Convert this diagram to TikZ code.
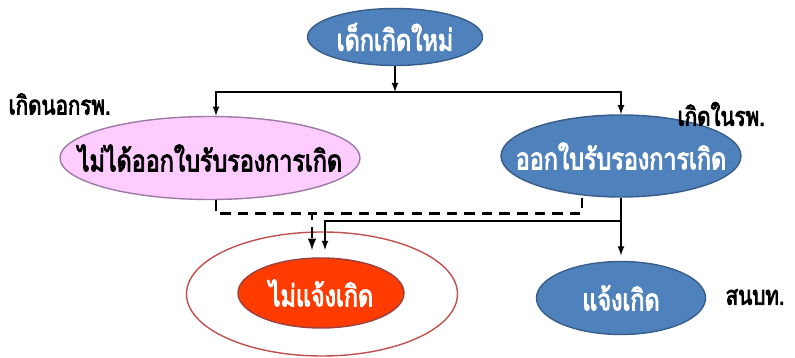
\documentclass[tikz,border=0pt]{standalone}
\usepackage{fontspec}
\newfontfamily\thaifont[Script=Thai, FakeStretch=0.78, FakeBold=3]{Loma}
\usetikzlibrary{shapes.geometric, positioning}

\definecolor{nodeblue}{HTML}{4F81BD}
\definecolor{blueedge}{HTML}{385D8A}
\definecolor{pinkfill}{HTML}{FFCCFF}
\definecolor{pinkedge}{HTML}{9C7BA4}
\definecolor{redfill}{HTML}{FF3B00}
\definecolor{rededge}{HTML}{C0504D}

% text that does not widen its ellipse
\newcommand{\inbox}[1]{\makebox[0pt]{#1}}

\tikzset{
  bubble/.style={ellipse, draw=blueedge, fill=nodeblue, text=white, inner sep=0pt,
    line width=0.8pt, font=\thaifont\fontsize{17}{20}\selectfont},
  tag/.style={anchor=west, inner sep=0pt, font=\thaifont\fontsize{15}{18}\selectfont},
  dashed line/.style={line width=1.2pt, dash pattern=on 6pt off 4pt},
}

\begin{document}
\begin{tikzpicture}[>=latex, line width=0.8pt]
    \useasboundingbox (0,0) rectangle (15.9,7.16);

    % Ellipses
    \node[bubble, minimum width=3.5cm, minimum height=1.14cm] (baby) at (7.90,6.42) {\inbox{เด็กเกิดใหม่}};
    \node[bubble, fill=pinkfill, draw=pinkedge, text=black, minimum width=6cm, minimum height=1.66cm] (nocert) at (4.20,4.00) {\inbox{ไม่ได้ออกใบรับรองการเกิด}};
    \node[bubble, minimum width=4.8cm, minimum height=1.64cm] (cert) at (12.42,4.04) {\inbox{ออกใบรับรองการเกิด}};
    \node[ellipse, draw=rededge, minimum width=5.42cm, minimum height=2.48cm] (ring) at (6.44,1.28) {};
    \node[bubble, fill=redfill, draw=rededge!80!black, minimum width=3.32cm, minimum height=1.4cm] (noreport) at (6.42,1.30) {\inbox{ไม่แจ้งเกิด}};
    \node[bubble, minimum width=3.38cm, minimum height=1.46cm] (report) at (12.42,1.20) {\inbox{แจ้งเกิด}};

    % Text
    \node[tag] (outside) at (0.16,5.08) {เกิดนอกรพ.};
    \node[tag] (inside) at (13.54,4.88) {เกิดในรพ.};
    \node[tag] (district) at (14.50,1.22) {สนบท.};

    % Split
    \coordinate (split) at (7.90,5.32);
    \coordinate (lft) at (4.32,5.32);
    \coordinate (rgt) at (12.42,5.32);
    \draw[->] (baby) -- (split);
    \draw[->] (split) -- (lft) -- (lft |- nocert.north);
    \draw[->] (split) -- (rgt) -- (cert);

    % Dashed lines
    \coordinate (dmeet) at (6.24,2.89);
    \coordinate (dright) at (11.64,2.89);
    \coordinate (dtip) at (6.24,2.16);
    \draw[dashed line, ->] (lft |- nocert.south) |- (dmeet) -- (dtip);
    \draw[dashed line] (dright |- cert.south) -- (dright) -- (dmeet);

    % Solid lines
    \coordinate (sbranch) at (12.42,2.74);
    \coordinate (stip) at (6.50,2.16);
    \draw[->, shorten >=3pt] (cert) -- (report);
    \draw[->] (sbranch) -| (stip);
\end{tikzpicture}
\end{document}
